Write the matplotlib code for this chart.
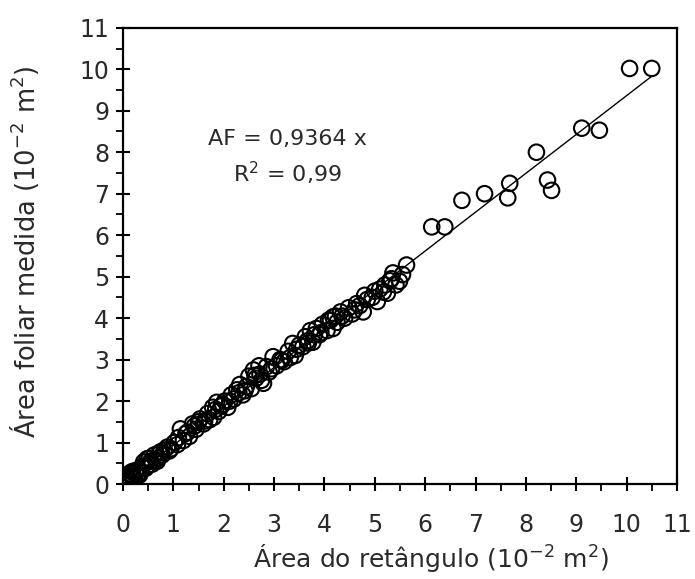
import matplotlib
matplotlib.use("Agg")
import matplotlib.pyplot as plt
from matplotlib.ticker import MultipleLocator

# Measured leaf area vs. rectangle area (10^-2 m^2)
area_retangulo = [
    0.02, 0.04, 0.06, 0.08, 0.10, 0.12, 0.15, 0.18, 0.20, 0.22,
    0.25, 0.28, 0.30, 0.35, 0.38, 0.41, 0.45, 0.48, 0.50, 0.55,
    0.58, 0.62, 0.65, 0.70, 0.72, 0.78, 0.82, 0.88, 0.95, 1.02,
    1.08, 1.14, 1.20, 1.25, 1.32, 1.38, 1.45, 1.50, 1.53, 1.60,
    1.68, 1.72, 1.78, 1.80, 1.86, 1.90, 1.95, 2.02, 2.08, 2.15,
    2.20, 2.26, 2.32, 2.38, 2.45, 2.50, 2.55, 2.59, 2.64, 2.70,
    2.75, 2.79, 2.85, 2.90, 2.98, 3.05, 3.12, 3.20, 3.28, 3.37,
    3.42, 3.50, 3.57, 3.62, 3.68, 3.72, 3.77, 3.84, 3.90, 3.96,
    4.05, 4.12, 4.17, 4.17, 4.25, 4.32, 4.40, 4.48, 4.55, 4.64,
    4.70, 4.77, 4.85, 4.95, 5.05, 5.10, 5.17, 5.25, 5.30, 5.36,
    5.42, 5.49, 5.55, 5.63,
    0.05, 0.14, 0.24, 0.33, 0.52, 0.68, 0.75, 0.92, 1.10, 1.28,
    1.42, 1.62, 1.84, 1.98, 2.12, 2.30, 2.42, 2.62, 2.72, 2.95,
    3.15, 3.32, 3.45, 3.66, 3.80, 3.93, 4.08, 4.22, 4.35, 4.60,
    4.80, 5.00, 5.20, 5.33,
    6.13, 6.39, 6.73, 7.18, 7.64, 7.68, 8.21, 8.43, 8.51, 9.11,
    9.46, 10.06, 10.50,
]
area_foliar = [
    0.05, 0.13, 0.02, 0.20, 0.10, 0.25, 0.08, 0.30, 0.18, 0.12,
    0.28, 0.20, 0.35, 0.30, 0.42, 0.53, 0.38, 0.61, 0.45, 0.55,
    0.48, 0.70, 0.58, 0.62, 0.75, 0.70, 0.82, 0.89, 0.85, 1.00,
    0.95, 1.33, 1.05, 1.22, 1.15, 1.45, 1.32, 1.50, 1.57, 1.45,
    1.70, 1.55, 1.85, 1.61, 1.97, 1.75, 1.88, 2.00, 1.85, 2.15,
    2.05, 2.27, 2.40, 2.15, 2.35, 2.60, 2.30, 2.75, 2.55, 2.85,
    2.50, 2.43, 2.83, 2.70, 3.07, 2.85, 3.00, 2.95, 3.20, 3.39,
    3.10, 3.35, 3.31, 3.55, 3.40, 3.70, 3.42, 3.75, 3.60, 3.85,
    3.70, 3.95, 4.03, 3.75, 3.90, 4.15, 4.00, 4.25, 4.10, 4.35,
    4.30, 4.15, 4.45, 4.50, 4.40, 4.70, 4.63, 4.60, 4.90, 5.09,
    4.80, 4.89, 5.05, 5.28,
    0.15, 0.05, 0.32, 0.22, 0.62, 0.55, 0.78, 0.80, 1.12, 1.25,
    1.40, 1.52, 1.80, 1.92, 2.00, 2.20, 2.25, 2.62, 2.65, 2.78,
    2.98, 3.05, 3.25, 3.45, 3.60, 3.65, 3.95, 4.05, 4.05, 4.20,
    4.55, 4.65, 4.80, 4.95,
    6.20, 6.20, 6.84, 7.00, 6.90, 7.25, 8.00, 7.33, 7.08, 8.58,
    8.53, 10.02, 10.02,
]

coef_angular = 0.9364
r2 = "0,99"
ticks = list(range(0, 12))

text_color = "#2a2a2a"
plt.rcParams["font.family"] = ["DejaVu Sans"]

fig = plt.figure(figsize=(6.95, 5.79), dpi=100)
ax = fig.add_axes([0.177, 0.164, 0.797, 0.788])

ax.scatter(area_retangulo, area_foliar, s=125, facecolors="none",
           edgecolors="black", linewidths=1.5, zorder=3)

x_fit = [0.0, max(area_retangulo)]
ax.plot(x_fit, [coef_angular * v for v in x_fit], color="black",
        linewidth=1.0, zorder=2)

ax.text(3.27, 8.31, "AF = 0,9364 x", ha="center", va="center",
        fontsize=16, color=text_color)
ax.text(3.27, 7.49, "R$^2$ = " + r2, ha="center", va="center",
        fontsize=16, color=text_color)

ax.set_xlim(0, 11)
ax.set_ylim(0, 11)
ax.set_xticks(ticks)
ax.set_yticks(ticks)
ax.xaxis.set_minor_locator(MultipleLocator(0.5))
ax.yaxis.set_minor_locator(MultipleLocator(0.5))

ax.tick_params(which="major", direction="inout", length=10, width=1.5,
               labelsize=17, labelcolor=text_color, top=False, right=False)
ax.tick_params(axis="x", which="major", pad=16)
ax.tick_params(axis="y", which="major", pad=5)
ax.tick_params(which="minor", direction="out", length=5, width=1.3,
               top=False, right=False)

for sp in ax.spines.values():
    sp.set_linewidth(1.6)
    sp.set_color("black")

ax.set_xlabel("Área do retângulo (10$^{-2}$ m$^2$)", fontsize=18,
              color=text_color)
ax.set_ylabel("Área foliar medida (10$^{-2}$ m$^2$)", fontsize=18.5,
              color=text_color)
ax.xaxis.set_label_coords(0.556, -0.128)
ax.yaxis.set_label_coords(-0.148, 0.51)

fig.savefig("out.png", dpi=100)
